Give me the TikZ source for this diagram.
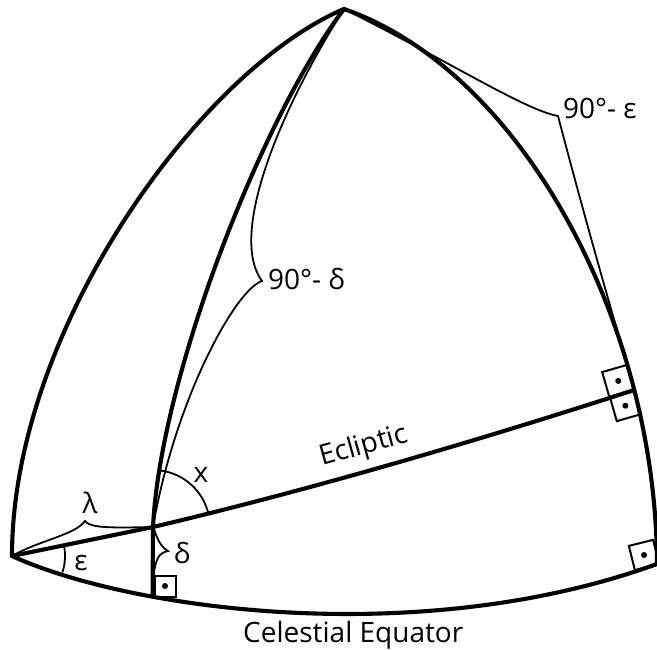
\documentclass[tikz,border=0pt]{standalone}
\usepackage{fontspec}
\setmainfont{Open Sans}
\usetikzlibrary{calc}
\begin{document}
\begin{tikzpicture}[x=1pt,y=1pt,
  thickline/.style={line width=4.1pt, line join=miter},
  thinline/.style={line width=1.8pt},
  rabox/.style={draw, line width=2pt, rectangle, minimum size=#1, inner sep=0pt,
    path picture={\fill (path picture bounding box.center) circle (3);}},
  lbl/.style={inner sep=0pt, font=\fontsize{28}{34}\selectfont}]
\useasboundingbox (0,0) rectangle (657,-650);
% key points
\coordinate (P) at (344,-9);
\coordinate (V) at (12,-556);
\coordinate (E) at (657,-564);
\coordinate (S) at (153,-527);
\coordinate (T1) at (558,-116);
\coordinate (T2) at (262,-281);
\coordinate (T3) at (85,-521);
\coordinate (T4) at (168,-551);
\path (P) .. controls (520,-70) and (656,-320) .. (E) coordinate[pos=0.72] (R1) coordinate[pos=0.76] (Q);
\path (V) .. controls (130,-610) and (420,-650) .. (E) coordinate[pos=0.29] (F);
% outline: equator, left meridian, right meridian
\draw[thickline] (E) .. controls (420,-650) and (130,-610) .. (V)
  .. controls (12,-330) and (200,-70) .. (P)
  .. controls (520,-70) and (656,-320) .. (E);
% hour circle
\draw[thickline] (P) .. controls (260,-120) and (160,-380) .. (S) -- (F);
% ecliptic
\draw[thickline] (V) -- (S) .. controls (310,-490) and (480,-440) .. (Q);
% right-angle boxes
\node[rabox=21] (fb) at (165,-586) {};
\node[rabox=26, rotate=16] (ub) at ($(Q)+(-16,9)$) {};
\node[rabox=25, rotate=16] (lb) at ($(Q)+(-8.9,-15.7)$) {};
\node[rabox=25, rotate=14] (rb) at (644,-555) {};
% braces
\draw[thinline] (P) .. controls (450,-62) and (525,-110) .. (T1)
  .. controls (580,-200) and (608,-300) .. (R1);
\draw[thinline] (P) .. controls (280,-110) and (228,-235) .. (T2)
  .. controls (235,-290) and (175,-400) .. (S);
\draw[thinline] (V) .. controls (40,-540) and (75,-535) .. (T3)
  .. controls (90,-528) and (110,-528) .. (S);
\draw[thinline] (S) .. controls (158,-540) and (160,-546) .. (T4)
  .. controls (158,-553) and (156,-560) .. (fb.north west);
% angle arcs
\draw[thinline] ($(V)+(11.6:53)$) arc[start angle=11.6, end angle=-18, radius=53];
\draw[thinline] ($(S)+(13.5:57)$) arc[start angle=13.5, end angle=82, radius=57];
% labels
\node[lbl, anchor=base west] (l1) at (563,-119) {90°- ε};
\node[lbl, anchor=base west] (l2) at (268,-290) {90°- δ};
\node[lbl, anchor=base west] (l3) at (243,-642) {Celestial Equator};
\node[lbl, anchor=base west, rotate=15.5] (l4) at (322,-466) {Ecliptic};
\node[lbl] (l5) at (90,-503) {λ};
\node[lbl] (l6) at (81,-563) {ε};
\node[lbl] (l7) at (182,-553) {δ};
\node[lbl] (l8) at (201,-475) {x};
\end{tikzpicture}
\end{document}
